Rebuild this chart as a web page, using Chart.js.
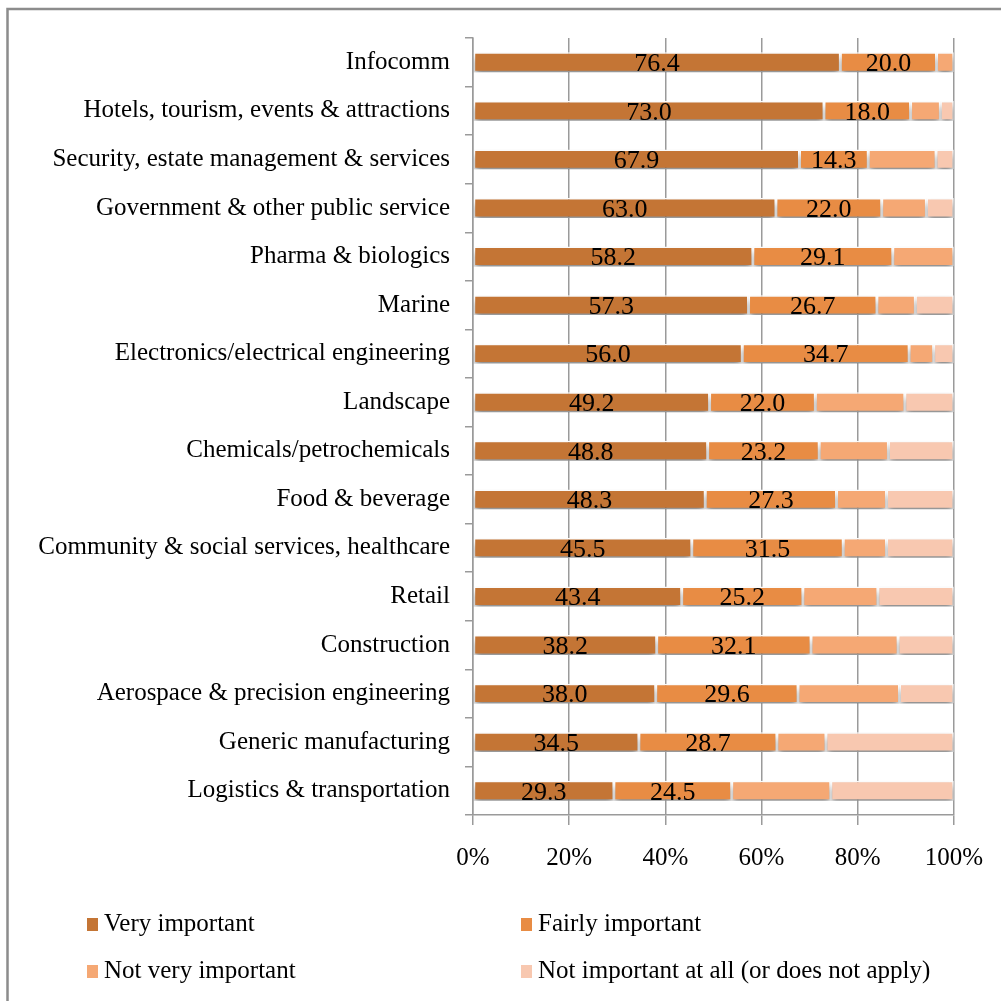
<!DOCTYPE html>
<html>
<head>
<meta charset="utf-8">
<script src="https://cdn.jsdelivr.net/npm/chart.js@4/dist/chart.umd.min.js"></script>
<style>
  html, body { margin: 0; padding: 0; background: #fff; }
  #wrap { position: relative; width: 1001px; height: 1001px; }
</style>
</head>
<body>
<div id="wrap"><canvas id="chart" width="1001" height="1001"></canvas></div>
<script>
// Sectors, top to bottom
const categories = [
  'Infocomm',
  'Hotels, tourism, events & attractions',
  'Security, estate management & services',
  'Government & other public service',
  'Pharma & biologics',
  'Marine',
  'Electronics/electrical engineering',
  'Landscape',
  'Chemicals/petrochemicals',
  'Food & beverage',
  'Community & social services, healthcare',
  'Retail',
  'Construction',
  'Aerospace & precision engineering',
  'Generic manufacturing',
  'Logistics & transportation'
];

const seriesNames = [
  'Very important',
  'Fairly important',
  'Not very important',
  'Not important at all (or does not apply)'
];

// Share of respondents (%) per sector
const veryImportant   = [76.4, 73.0, 67.9, 63.0, 58.2, 57.3, 56.0, 49.2, 48.8, 48.3, 45.5, 43.4, 38.2, 38.0, 34.5, 29.3];
const fairlyImportant = [20.0, 18.0, 14.3, 22.0, 29.1, 26.7, 34.7, 22.0, 23.2, 27.3, 31.5, 25.2, 32.1, 29.6, 28.7, 24.5];
const notVeryImportant = [3.6, 6.2, 14.1, 9.3, 12.7, 8.0, 5.1, 18.6, 14.4, 10.4, 9.0, 15.6, 18.1, 21.1, 10.2, 20.6];
const notImportantAtAll = [0.0, 2.8, 3.7, 5.7, 0.0, 8.0, 4.2, 10.2, 13.6, 14.0, 14.0, 15.8, 11.6, 11.3, 26.6, 25.6];

const xTickValues = [0, 20, 40, 60, 80, 100];

const seriesColors = ['#C47535', '#E88C44', '#F5A874', '#F8C8B0'];
const FONT = '"Liberation Serif", "DejaVu Serif", serif';

// Outer frame around the figure
const framePlugin = {
  id: 'frame',
  beforeDraw(chart) {
    const ctx = chart.ctx;
    ctx.save();
    ctx.fillStyle = '#fff';
    ctx.fillRect(0, 0, chart.width, chart.height);
    ctx.strokeStyle = '#8c8c8c';
    ctx.lineWidth = 2.5;
    ctx.beginPath();
    ctx.moveTo(7.5, chart.height + 5);
    ctx.lineTo(7.5, 9);
    ctx.lineTo(chart.width + 5, 9);
    ctx.stroke();
    ctx.restore();
  }
};

// Soft drop shadow under the bars
const shadowPlugin = {
  id: 'barShadow',
  beforeDatasetsDraw(chart) {
    const ctx = chart.ctx;
    ctx.save();
    ctx.shadowColor = 'rgba(0,0,0,0.45)';
    ctx.shadowBlur = 6;
    ctx.shadowOffsetX = 0;
    ctx.shadowOffsetY = 5;
  },
  afterDatasetsDraw(chart) {
    chart.ctx.restore();
  }
};

// Value labels centred in the first two segments
const valueLabelPlugin = {
  id: 'valueLabels',
  afterDatasetsDraw(chart) {
    const ctx = chart.ctx;
    ctx.save();
    ctx.font = '26px ' + FONT;
    ctx.fillStyle = '#000';
    ctx.textAlign = 'center';
    ctx.textBaseline = 'middle';
    [0, 1].forEach(di => {
      const meta = chart.getDatasetMeta(di);
      const values = chart.data.datasets[di].data;
      meta.data.forEach((bar, i) => {
        const cx = (bar.x + bar.base) / 2;
        ctx.fillText(values[i].toFixed(1), cx, bar.y + 2);
      });
    });
    ctx.restore();
  }
};

// Two-column legend below the axis
const legendPlugin = {
  id: 'gridLegend',
  afterDraw(chart) {
    const ctx = chart.ctx;
    const cols = [87, 521];
    const rows = [924, 971];
    ctx.save();
    ctx.font = '25px ' + FONT;
    ctx.textBaseline = 'middle';
    ctx.textAlign = 'left';
    chart.data.datasets.forEach((ds, i) => {
      const x = cols[i % 2];
      const y = rows[Math.floor(i / 2)];
      ctx.fillStyle = ds.backgroundColor;
      ctx.fillRect(x, y - 6, 11, 13);
      ctx.fillStyle = '#000';
      ctx.fillText(ds.label, x + 17, y);
    });
    ctx.restore();
  }
};

const seriesData = [veryImportant, fairlyImportant, notVeryImportant, notImportantAtAll];

new Chart(document.getElementById('chart'), {
  type: 'bar',
  data: {
    labels: categories,
    datasets: seriesData.map((d, i) => ({
      label: seriesNames[i],
      data: d,
      backgroundColor: seriesColors[i],
      borderColor: '#ffffff',
      borderWidth: 1.5,
      borderSkipped: false,
      barPercentage: 0.41,
      categoryPercentage: 1.0
    }))
  },
  options: {
    indexAxis: 'y',
    responsive: false,
    animation: false,
    devicePixelRatio: 1,
    layout: { padding: { top: 38, right: 46, left: 0, bottom: 0 } },
    plugins: {
      legend: { display: false },
      tooltip: { enabled: false }
    },
    scales: {
      x: {
        stacked: true,
        min: 0,
        max: 100,
        afterBuildTicks(scale) {
          scale.ticks = xTickValues.map(v => ({ value: v }));
        },
        afterFit(scale) { scale.height = 186; },
        ticks: {
          callback: v => v + '%',
          font: { family: FONT, size: 25 },
          color: '#000',
          padding: 18,
          maxRotation: 0
        },
        grid: {
          color: '#9a9a9a',
          lineWidth: 1.5,
          tickLength: 10,
          drawOnChartArea: true
        },
        border: { color: '#9a9a9a', width: 1.5 }
      },
      y: {
        stacked: true,
        afterFit(scale) { scale.width = 473; },
        ticks: {
          font: { family: FONT, size: 25 },
          color: '#000',
          padding: 15,
          autoSkip: false
        },
        grid: {
          color: '#9a9a9a',
          lineWidth: 1.5,
          tickLength: 8,
          drawOnChartArea: false,
          offset: true
        },
        border: { color: '#9a9a9a', width: 1.5 }
      }
    }
  },
  plugins: [framePlugin, shadowPlugin, valueLabelPlugin, legendPlugin]
});
</script>
</body>
</html>
